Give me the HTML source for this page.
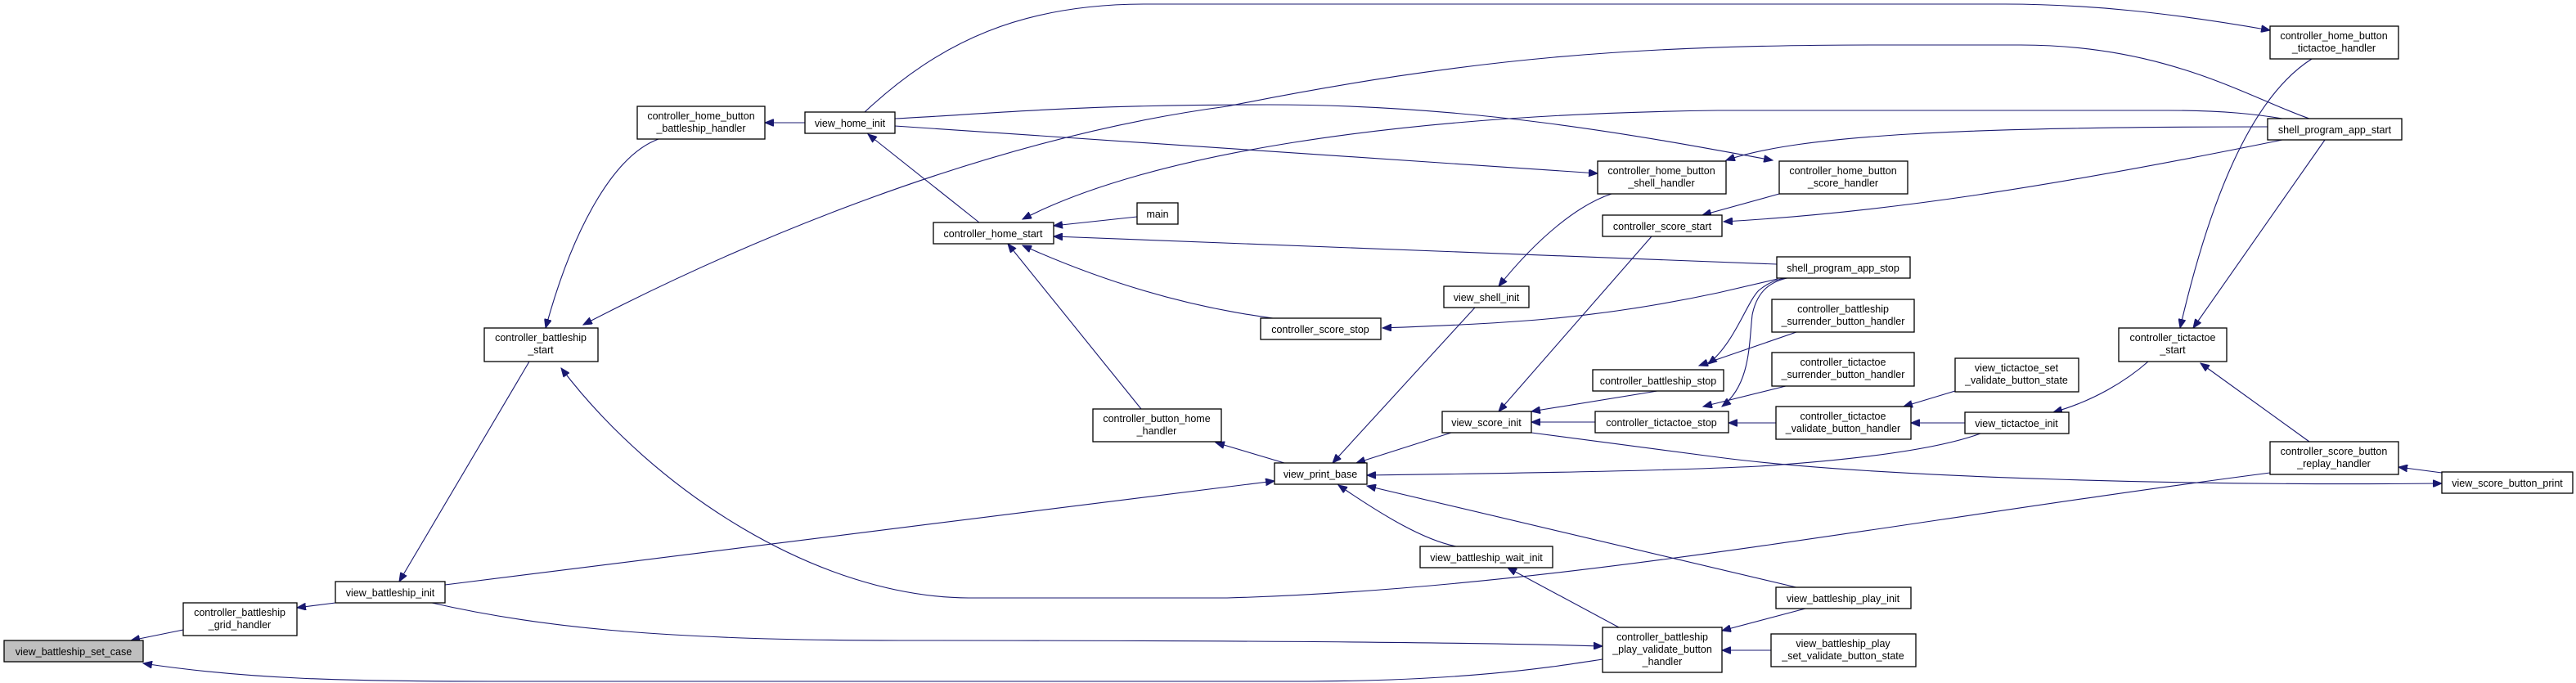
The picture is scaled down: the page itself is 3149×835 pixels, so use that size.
<!DOCTYPE html>
<html><head><meta charset="utf-8"><style>
html,body{margin:0;padding:0;background:#fff;}
svg{display:block;}
text{font-family:"Liberation Sans",Arial,sans-serif;font-size:12.5px;fill:#000;text-anchor:middle;}
.n{fill:#fff;stroke:#000;stroke-width:1.3;}
.e{fill:none;stroke:#191970;stroke-width:1.1;}
</style></head><body>
<svg width="3149" height="835" viewBox="0 0 3149 835" xmlns="http://www.w3.org/2000/svg">
<defs>
<marker id="a" markerUnits="userSpaceOnUse" markerWidth="12" markerHeight="9" refX="11" refY="4.5" orient="auto-start-reverse">
<path d="M0,0 L11,4.5 L0,9 z" fill="#191970" stroke="#191970"/>
</marker>
</defs>
<g class="e" marker-start="url(#a)">
<path d="M160,783 L224,770"/>
<path d="M363,743 L410,737"/>
<path d="M175,811 C300,830 420,833 600,833 L1600,833 C1800,832 1900,815 1959,806"/>
<path d="M1959,790 C1800,785 1500,783 1100,783 C800,783 650,765 528,737"/>
<path d="M1558,588 L544,715"/>
<path d="M488,711 L647,442"/>
<path d="M667,401 C700,280 750,190 805,170"/>
<path d="M713,397 C900,300 1200,170 1500,130 C1800,70 2000,55 2300,55 L2470,55 C2650,55 2750,120 2823,145"/>
<path d="M686,450 C800,600 1000,730 1184,731 L1500,731 C1900,720 2300,640 2775,578"/>
<path d="M935,150 L984,150"/>
<path d="M1061,164 L1197,272"/>
<path d="M2775,37 C2650,15 2550,5 2450,5 L1400,5 C1250,5 1150,50 1057,137"/>
<path d="M1953,212 L1094,154"/>
<path d="M2167,196 C2000,165 1800,128 1550,128 C1300,128 1200,140 1094,145"/>
<path d="M1250,268 C1400,190 1700,140 2100,135 L2650,135 C2720,135 2760,140 2790,145"/>
<path d="M1288,276 L1390,265"/>
<path d="M1288,289 L2172,323"/>
<path d="M1250,300 C1350,345 1450,375 1556,389"/>
<path d="M1232,298 L1395,500"/>
<path d="M1486,541 L1570,566"/>
<path d="M1690,401 C1850,395 1950,390 2100,358 L2173,341"/>
<path d="M1832,350 C1880,290 1930,250 1970,237"/>
<path d="M1629,566 L1803,376"/>
<path d="M1658,566 L1774,529"/>
<path d="M1671,581 C1900,578 2050,575 2150,570 C2300,560 2380,545 2421,530"/>
<path d="M1636,593 C1690,630 1740,660 1780,668"/>
<path d="M1671,594 L2200,719"/>
<path d="M1843,694 L1979,767"/>
<path d="M1832,503 L2019,289"/>
<path d="M2081,263 L2175,237"/>
<path d="M2107,271 C2300,260 2500,230 2790,171"/>
<path d="M1872,503 L2026,478"/>
<path d="M1872,516 L1950,516"/>
<path d="M2985,591 C2700,594 2300,585 2100,559 L1872,529"/>
<path d="M2932,571 L2985,578"/>
<path d="M2690,444 L2823,540"/>
<path d="M2510,504 C2560,490 2600,465 2626,442"/>
<path d="M2665,401 C2700,250 2750,120 2826,72"/>
<path d="M2681,401 L2842,171"/>
<path d="M2336,517 L2402,517"/>
<path d="M2327,497 L2390,478"/>
<path d="M2113,517 L2171,517"/>
<path d="M2082,497 L2183,472"/>
<path d="M2105,497 C2140,470 2138,420 2142,385 C2148,355 2165,343 2190,339"/>
<path d="M2088,445 C2120,420 2135,370 2150,355 C2162,345 2175,340 2190,339"/>
<path d="M2077,447 L2196,406"/>
<path d="M2110,196 C2200,165 2400,155 2772,155"/>
<path d="M2105,771 L2207,744"/>
<path d="M2105,795 L2165,795"/>
</g>
<g>
<rect class="n" x="5" y="783" width="170" height="26" style="fill:#bfbfbf"/><text x="90" y="801">view_battleship_set_case</text>
<rect class="n" x="224" y="737" width="139" height="40"/><text x="293" y="753">controller_battleship</text><text x="293" y="768">_grid_handler</text>
<rect class="n" x="410" y="711" width="134" height="26"/><text x="477" y="729">view_battleship_init</text>
<rect class="n" x="592" y="401" width="139" height="41"/><text x="661" y="417">controller_battleship</text><text x="661" y="432">_start</text>
<rect class="n" x="779" y="130" width="156" height="40"/><text x="857" y="146">controller_home_button</text><text x="857" y="161">_battleship_handler</text>
<rect class="n" x="984" y="137" width="110" height="26"/><text x="1039" y="155">view_home_init</text>
<rect class="n" x="1141" y="272" width="147" height="26"/><text x="1214" y="290">controller_home_start</text>
<rect class="n" x="1390" y="248" width="50" height="26"/><text x="1415" y="266">main</text>
<rect class="n" x="1953" y="197" width="157" height="40"/><text x="2031" y="213">controller_home_button</text><text x="2031" y="228">_shell_handler</text>
<rect class="n" x="1959" y="263" width="146" height="26"/><text x="2032" y="281">controller_score_start</text>
<rect class="n" x="1765" y="350" width="104" height="26"/><text x="1817" y="368">view_shell_init</text>
<rect class="n" x="1541" y="389" width="147" height="26"/><text x="1614" y="407">controller_score_stop</text>
<rect class="n" x="1336" y="500" width="157" height="40"/><text x="1414" y="516">controller_button_home</text><text x="1414" y="531">_handler</text>
<rect class="n" x="1558" y="566" width="113" height="26"/><text x="1614" y="584">view_print_base</text>
<rect class="n" x="1763" y="503" width="109" height="26"/><text x="1817" y="521">view_score_init</text>
<rect class="n" x="1947" y="452" width="160" height="26"/><text x="2027" y="470">controller_battleship_stop</text>
<rect class="n" x="1950" y="503" width="163" height="26"/><text x="2031" y="521">controller_tictactoe_stop</text>
<rect class="n" x="1736" y="668" width="162" height="26"/><text x="1817" y="686">view_battleship_wait_init</text>
<rect class="n" x="1959" y="767" width="146" height="55"/><text x="2032" y="783">controller_battleship</text><text x="2032" y="798">_play_validate_button</text><text x="2032" y="813">_handler</text>
<rect class="n" x="2775" y="32" width="157" height="40"/><text x="2853" y="48">controller_home_button</text><text x="2853" y="63">_tictactoe_handler</text>
<rect class="n" x="2772" y="145" width="164" height="26"/><text x="2854" y="163">shell_program_app_start</text>
<rect class="n" x="2175" y="197" width="157" height="40"/><text x="2253" y="213">controller_home_button</text><text x="2253" y="228">_score_handler</text>
<rect class="n" x="2172" y="314" width="163" height="26"/><text x="2253" y="332">shell_program_app_stop</text>
<rect class="n" x="2166" y="366" width="174" height="40"/><text x="2253" y="382">controller_battleship</text><text x="2253" y="397">_surrender_button_handler</text>
<rect class="n" x="2166" y="431" width="174" height="41"/><text x="2253" y="447">controller_tictactoe</text><text x="2253" y="462">_surrender_button_handler</text>
<rect class="n" x="2390" y="438" width="151" height="41"/><text x="2465" y="454">view_tictactoe_set</text><text x="2465" y="469">_validate_button_state</text>
<rect class="n" x="2171" y="497" width="165" height="40"/><text x="2253" y="513">controller_tictactoe</text><text x="2253" y="528">_validate_button_handler</text>
<rect class="n" x="2402" y="504" width="127" height="26"/><text x="2465" y="522">view_tictactoe_init</text>
<rect class="n" x="2590" y="401" width="132" height="41"/><text x="2656" y="417">controller_tictactoe</text><text x="2656" y="432">_start</text>
<rect class="n" x="2775" y="540" width="157" height="40"/><text x="2853" y="556">controller_score_button</text><text x="2853" y="571">_replay_handler</text>
<rect class="n" x="2985" y="577" width="160" height="26"/><text x="3065" y="595">view_score_button_print</text>
<rect class="n" x="2171" y="718" width="165" height="26"/><text x="2253" y="736">view_battleship_play_init</text>
<rect class="n" x="2165" y="775" width="177" height="40"/><text x="2253" y="791">view_battleship_play</text><text x="2253" y="806">_set_validate_button_state</text>
</g>
</svg>
</body></html>
